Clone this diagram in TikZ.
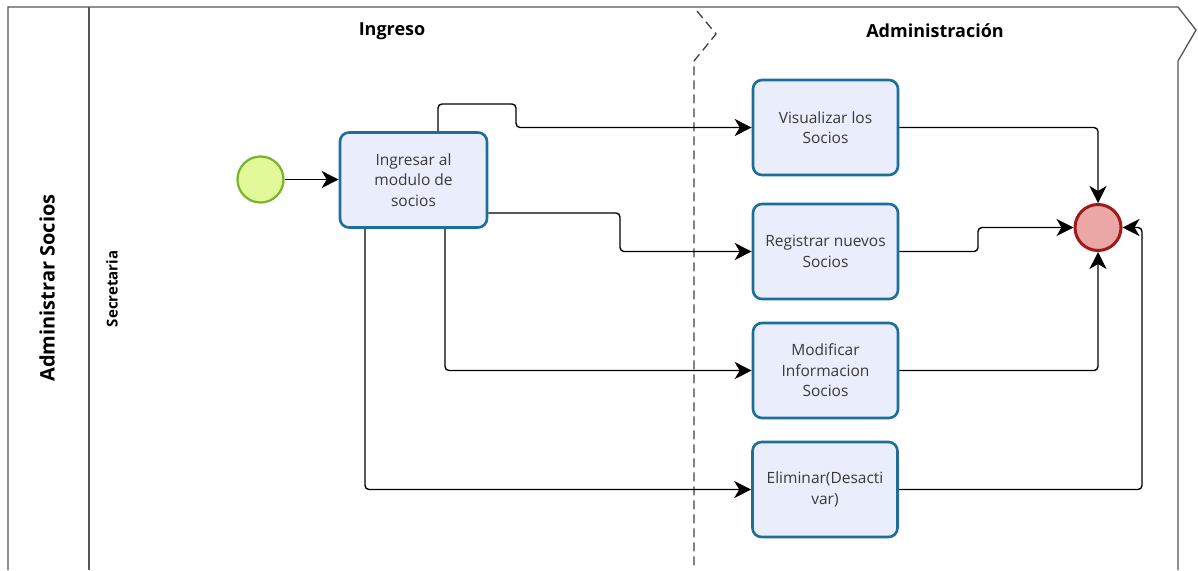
\documentclass[tikz,border=0pt]{standalone}
\usepackage{fontspec}
\setmainfont{Open Sans}
\usetikzlibrary{arrows.meta}
\definecolor{taskborder}{HTML}{1E6E9A}
\definecolor{taskfill}{HTML}{E9EDFC}
\definecolor{startfill}{HTML}{E2F99A}
\definecolor{startborder}{HTML}{79B52C}
\definecolor{endfill}{HTML}{EBA6A6}
\definecolor{endborder}{HTML}{A31818}
\definecolor{frame}{HTML}{555555}
\definecolor{tasktext}{HTML}{3A3A3A}
\tikzset{
  task/.style={draw=taskborder, line width=2.6pt, fill=taskfill, rounded corners=9pt,
    minimum width=145pt, minimum height=95pt, inner sep=2pt, align=center,
    font=\fontsize{15.5}{20.5}\selectfont, text=tasktext},
  startev/.style={circle, draw=startborder, line width=2.2pt, fill=startfill, minimum size=46pt, inner sep=0pt},
  endev/.style={circle, draw=endborder, line width=3pt, fill=endfill, minimum size=46pt, inner sep=0pt},
  flow/.style={line width=1.4pt, rounded corners=4pt, -{Stealth[length=17pt,width=17pt,inset=5pt]}},
  frameline/.style={draw=frame, line width=1.3pt},
  heading/.style={font=\bfseries\fontsize{18}{20}\selectfont},
}
\begin{document}
\begin{tikzpicture}[x=1pt,y=-1pt]
\useasboundingbox (0,0) rectangle (1198,570);
\fill[white] (0,0) rectangle (1198,570);
% frame
\draw[frameline] (8,570) -- (8,7) -- (1178,7) -- (1196,30) -- (1178,61) -- (1178,570);
\draw[frameline] (89,7) -- (89,570);
\draw[draw=black!75, line width=1.3pt, dash pattern=on 9pt off 5pt] (697,11) -- (716,34) -- (694,61) -- (694,570);
% labels
\node[heading] (ingreso) at (392,31) {Ingreso};
\node[heading] (admin) at (935,31) {Administración};
\node[font=\bfseries\fontsize{20}{22}\selectfont, rotate=90] (pool) at (47,288) {Administrar Socios};
\node[font=\bfseries\fontsize{15}{16}\selectfont, rotate=90] (lane) at (112,289) {Secretaria};
% events
\node[startev] (start) at (260.5,179.5) {};
\node[endev] (end) at (1098,227.5) {};
% tasks
\node[task, minimum width=147pt] (ingresar) at (413.5,180) {Ingresar al\\modulo de\\socios};
\node[task] (visual) at (825.5,127.5) {Visualizar los\\Socios};
\node[task] (registrar) at (825.5,251.5) {Registrar nuevos\\Socios};
\node[task] (modificar) at (825.5,370.5) {Modificar\\Informacion\\Socios};
\node[task] (eliminar) at (825,489.5) {Eliminar(Desacti\\var)};
% flows
\draw[flow] (start.east) -- (ingresar.west |- start.east);
\draw[flow] (ingresar.north -| 438,0) -- (438,104) -- (516,104) -- (516,127.5) -- (visual.west);
\draw[flow] (ingresar.east |- 0,213) -- (620,213) -- (620,251.5) -- (registrar.west);
\draw[flow] (ingresar.south -| 445,0) -- (445,370.5) -- (modificar.west);
\draw[flow] (ingresar.south -| 365,0) -- (365,489.5) -- (eliminar.west);
\draw[flow] (visual.east) -- (1098,127.5) -- (end.north);
\draw[flow] (registrar.east) -- (978,251.5) -- (978,227.5) -- (end.west);
\draw[flow] (modificar.east) -- (1098,370.5) -- (end.south);
\draw[flow] (eliminar.east) -- (1142,489.5) -- (1142,227.5) -- (end.east);
\end{tikzpicture}
\end{document}
